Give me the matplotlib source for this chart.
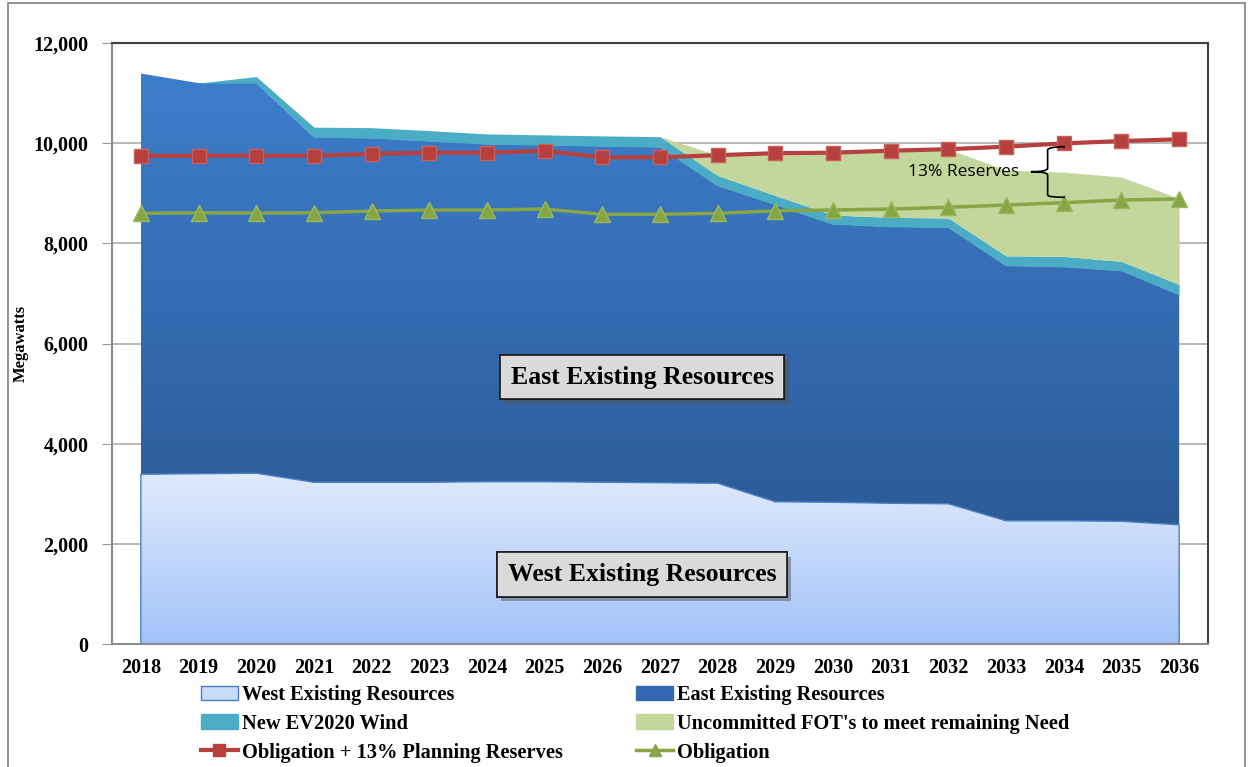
import numpy as np
import matplotlib
matplotlib.use("Agg")
import matplotlib.pyplot as plt
from matplotlib.colors import LinearSegmentedColormap
from matplotlib.patches import Patch, Rectangle, PathPatch
from matplotlib.lines import Line2D
from matplotlib.path import Path
from matplotlib.ticker import FuncFormatter
import matplotlib.patheffects as pe

# data (MW)
years = list(range(2018, 2037))
west = [3390, 3400, 3410, 3230, 3230, 3230, 3240, 3240, 3230, 3220,
        3210, 2840, 2830, 2810, 2800, 2460, 2460, 2450, 2380]
east = [8000, 7800, 7790, 6890, 6870, 6810, 6740, 6720, 6710, 6700,
        5940, 5930, 5550, 5520, 5515, 5090, 5070, 5000, 4590]
wind = [0, 0, 130, 200, 210, 210, 205, 205, 205, 210,
        205, 185, 185, 190, 190, 200, 210, 190, 210]
fot = [0, 0, 0, 0, 0, 0, 0, 0, 0, 0,
       405, 850, 1265, 1330, 1375, 1710, 1680, 1685, 1715]
oblig_res = [9745, 9750, 9750, 9750, 9785, 9810, 9810, 9845, 9717, 9717,
             9760, 9800, 9810, 9850, 9880, 9930, 9995, 10043, 10077]
oblig = [8600, 8610, 8605, 8610, 8645, 8665, 8665, 8685, 8580, 8580,
         8600, 8650, 8665, 8685, 8720, 8765, 8812, 8865, 8885]
y_ticks = [0, 2000, 4000, 6000, 8000, 10000, 12000]

serif = "Liberation Serif"

x = np.array(years)
w = np.array(west)
e_top = w + np.array(east)
wd_top = e_top + np.array(wind)
f_top = wd_top + np.array(fot)


def grad_fill(ax, x, lo, hi, c_bot, c_top, y0, y1, z):
    poly = ax.fill_between(x, lo, hi, facecolor="none", edgecolor="none", zorder=z)
    cmap = LinearSegmentedColormap.from_list("g", [c_bot, c_top])
    grad = np.linspace(0, 1, 256).reshape(-1, 1)
    im = ax.imshow(grad, cmap=cmap, origin="lower", aspect="auto",
                   extent=[x[0], x[-1], y0, y1], zorder=z, interpolation="bilinear")
    im.set_clip_path(poly.get_paths()[0], transform=ax.transData)
    return poly


fig = plt.figure(figsize=(12.52, 7.67), dpi=100)
ax = fig.add_axes([112 / 1252, 1 - 644 / 767, 1096 / 1252, 601 / 767])

grad_fill(ax, x, 0, w, "#a3c3f9", "#e0eafc", 0, 3410, 1)
ax.plot(np.r_[x[0], x, x[-1]], np.r_[0, w, 0], color="#4a7ec4", lw=1, zorder=1.5)
grad_fill(ax, x, w, e_top, "#2c5b98", "#3d7ecc", 2400, 11400, 1)
ax.fill_between(x, e_top, wd_top, color="#4bacc6", lw=0, zorder=1)
ax.fill_between(x, wd_top, f_top, color="#c3d69b", lw=0, zorder=1)

ax.plot(x, oblig_res, color="#b5403d", lw=3, marker="s", ms=10,
        mfc="#b5403d", mec="#c9605d", zorder=4)
ax.plot(x, oblig, color="#86a544", lw=2.5, marker="^", ms=11,
        mfc="#86a544", mec="#9bb85e", zorder=4)

ax.set_xlim(2017.5, 2036.5)
ax.set_ylim(0, 12000)
ax.set_yticks(y_ticks)
ax.yaxis.set_major_formatter(FuncFormatter(lambda v, p: f"{int(v):,}"))
ax.set_xticks(years)
ax.set_xticks(np.arange(2017.5, 2036.6, 1), minor=True)
ax.tick_params(axis="x", which="major", length=0, pad=10)
ax.tick_params(axis="x", which="minor", direction="in", length=5, color="#999999")
ax.tick_params(axis="y", length=7, color="#999999", pad=10)
for lab in ax.get_xticklabels() + ax.get_yticklabels():
    lab.set_fontfamily(serif)
    lab.set_fontweight("bold")
    lab.set_fontsize(14.5)

ax.set_axisbelow(True)
ax.grid(axis="y", color="#b3b3b3", lw=1.3, zorder=0)
for s in ["left", "bottom"]:
    ax.spines[s].set_color("#8c8c8c")
    ax.spines[s].set_linewidth(1.5)
for s in ["top", "right"]:
    ax.spines[s].set_color("#404040")
    ax.spines[s].set_linewidth(1.5)

ax.set_ylabel("Megawatts", fontfamily=serif, fontweight="bold", fontsize=12, labelpad=3)

# labels in boxes
for txt, yy in [("East Existing Resources", 5330), ("West Existing Resources", 1385)]:
    t = ax.text(2026.69, yy, txt, ha="center", va="center", fontfamily=serif,
                fontweight="bold", fontsize=18.5, zorder=6,
                bbox=dict(boxstyle="square,pad=0.42", facecolor="#dadada",
                          edgecolor="#1a1a1a", lw=1.2))
    t.get_bbox_patch().set_path_effects([
        pe.withSimplePatchShadow(offset=(3, -3), shadow_rgbFace="#555555", alpha=0.5),
        pe.Normal()])

# reserves brace
ax.text(2033.23, 9430, "13% Reserves", ha="right", va="center",
        fontfamily="Open Sans", fontsize=12.5, zorder=6)
verts = [(2034.02, 9930), (2033.72, 9925), (2033.72, 9864),
         (2033.72, 9500),
         (2033.72, 9430), (2033.43, 9430),
         (2033.72, 9430), (2033.72, 9364),
         (2033.72, 8965),
         (2033.72, 8919), (2034.02, 8919)]
codes = [Path.MOVETO, Path.CURVE3, Path.CURVE3,
         Path.LINETO,
         Path.CURVE3, Path.CURVE3,
         Path.CURVE3, Path.CURVE3,
         Path.LINETO,
         Path.CURVE3, Path.CURVE3]
ax.add_patch(PathPatch(Path(verts, codes), facecolor="none", edgecolor="black",
                       lw=1.2, zorder=6))

# legend
handles = [
    Patch(facecolor="#c9dbfa", edgecolor="#4a7ec4", label="West Existing Resources"),
    Patch(facecolor="#4bacc6", edgecolor="#4bacc6", label="New EV2020 Wind"),
    Line2D([], [], color="#b5403d", lw=3, marker="s", ms=8,
           label="Obligation + 13% Planning Reserves"),
    Patch(facecolor="#3568b0", edgecolor="#3568b0", label="East Existing Resources"),
    Patch(facecolor="#c3d69b", edgecolor="#c3d69b", label="Uncommitted FOT's to meet remaining Need"),
    Line2D([], [], color="#86a544", lw=2.5, marker="^", ms=9, label="Obligation"),
]
fig.legend(handles=handles, ncol=2, loc="upper left", bbox_to_anchor=(201 / 1252, 1 - 685 / 767),
           frameon=False, prop={"family": serif, "weight": "bold", "size": 14.7},
           handlelength=1.8, handleheight=0.7, handletextpad=0.2,
           labelspacing=0.43, columnspacing=3.6, borderpad=0, borderaxespad=0)

# outer frame
fig.patches.append(Rectangle((8 / 1252, -0.05), 1237 / 1252, 1.05 - 3 / 767,
                             transform=fig.transFigure, fill=False,
                             edgecolor="#7f7f7f", lw=1.2))

fig.savefig("out.png", dpi=100)
